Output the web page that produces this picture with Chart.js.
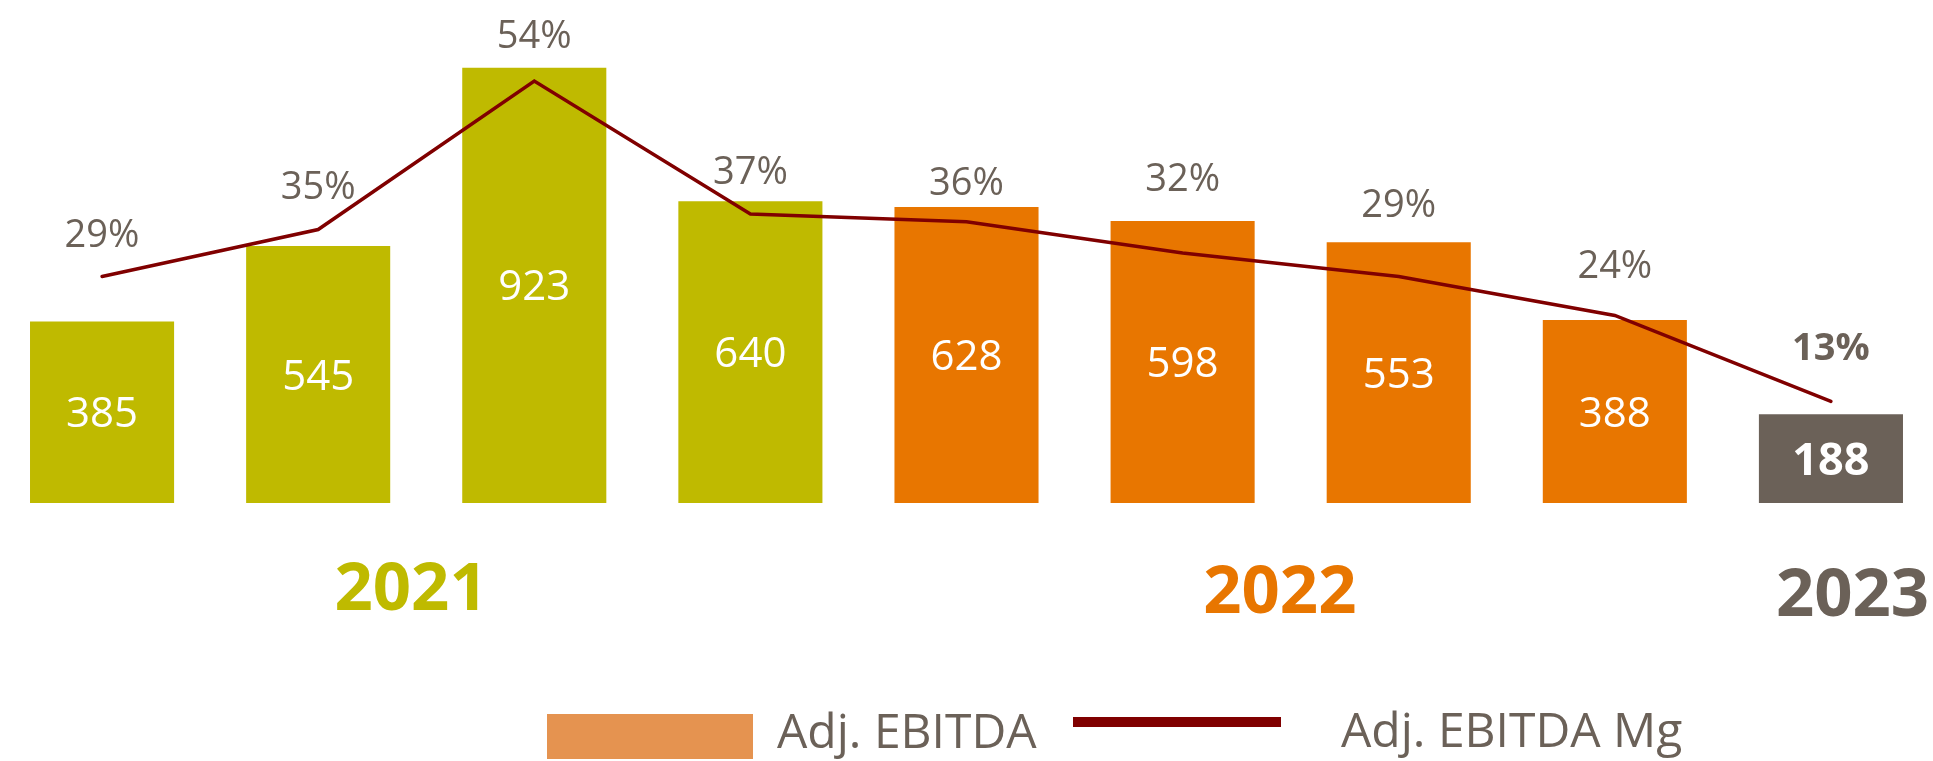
<!DOCTYPE html>
<html>
<head>
<meta charset="utf-8">
<script src="https://cdn.jsdelivr.net/npm/chart.js@4"></script>
<style>
  html, body { margin: 0; padding: 0; background: #fff; overflow: hidden; width: 1933px; height: 761px; }
  #wrap { position: absolute; left: -6px; top: 0; width: 1945px; height: 761px; }
</style>
</head>
<body>
<div id="wrap"><canvas id="chart" width="1945" height="761"></canvas></div>
<script>
// quarters 2021 Q1 .. 2023 Q1
const quarters  = ['Q1 2021','Q2 2021','Q3 2021','Q4 2021','Q1 2022','Q2 2022','Q3 2022','Q4 2022','Q1 2023'];
const ebitda    = [385, 545, 923, 640, 628, 598, 553, 388, 188];
const margin    = [29, 35, 54, 37, 36, 32, 29, 24, 13];
const barColors = ['#BFBA00','#BFBA00','#BFBA00','#BFBA00','#E87600','#E87600','#E87600','#E87600','#6B6158'];
const years      = ['2021', '2022', '2023'];
const yearColors = ['#BFBA00', '#E87600', '#6B6158'];
const seriesNames = ['Adj. EBITDA', 'Adj. EBITDA Mg'];

const GRAY = '#6B6158';
const FONT = '"Open Sans", "Noto Sans", sans-serif';

// numbers inside bars and percentages above the line
const valueLabels = {
  id: 'valueLabels',
  afterDatasetsDraw(chart, args, opts) {
    const ctx = chart.ctx;
    const last = ebitda.length - 1;
    ctx.save();
    ctx.textAlign = 'center';
    ctx.textBaseline = 'alphabetic';
    chart.getDatasetMeta(1).data.forEach((bar, i) => {
      const bold = i === last;
      ctx.font = (bold ? 'bold 45px ' : '42px ') + FONT;
      ctx.fillStyle = '#fff';
      ctx.fillText(String(ebitda[i]), bar.x, (bar.y + bar.base) / 2 + (bold ? 16 : 15));
    });
    chart.getDatasetMeta(0).data.forEach((pt, i) => {
      const bold = i === last;
      ctx.font = (bold ? 'bold ' : '') + '38px ' + FONT;
      ctx.fillStyle = GRAY;
      // labels were nudged by hand in the original, some sit above the bars
      ctx.fillText(margin[i] + '%', pt.x, pt.y - (bold ? 41 : 31) - opts.lift[i]);
    });
    ctx.restore();
  }
};

// year captions under the bar groups + legend row
const decorations = {
  id: 'decorations',
  afterDraw(chart, args, opts) {
    const ctx = chart.ctx;
    const x = chart.scales.x;
    ctx.save();
    ctx.textAlign = 'center';
    ctx.textBaseline = 'alphabetic';
    ctx.font = 'bold 67px ' + FONT;
    years.forEach((y, i) => {
      ctx.fillStyle = yearColors[i];
      ctx.fillText(y, x.getPixelForValue(opts.yearAt[i]), opts.yearBase[i]);
    });

    // legend
    const lg = opts.legend;
    ctx.fillStyle = '#E59350';
    ctx.fillRect(lg.boxX, lg.boxY, lg.boxW, lg.boxH);
    ctx.strokeStyle = '#800000';
    ctx.lineWidth = 10;
    ctx.beginPath();
    ctx.moveTo(lg.lineX, lg.lineY);
    ctx.lineTo(lg.lineX + lg.boxW + 2, lg.lineY);
    ctx.stroke();
    ctx.textAlign = 'left';
    ctx.font = '48px ' + FONT;
    ctx.fillStyle = GRAY;
    ctx.fillText(seriesNames[0], lg.text1X, lg.textBase);
    ctx.fillText(seriesNames[1], lg.text2X, lg.textBase - 1);
    ctx.restore();
  }
};

new Chart(document.getElementById('chart').getContext('2d'), {
  data: {
    labels: quarters,
    datasets: [
      { type: 'line', label: seriesNames[1], data: margin, yAxisID: 'y2',
        borderColor: '#800000', borderWidth: 3.5, pointRadius: 0, tension: 0,
        borderCapStyle: 'round', fill: false, order: 1 },
      { type: 'bar', label: seriesNames[0], data: ebitda, yAxisID: 'y',
        backgroundColor: barColors, borderWidth: 0,
        categoryPercentage: 0.6667, barPercentage: 1, order: 2 }
    ]
  },
  options: {
    responsive: false,
    animation: false,
    devicePixelRatio: 1,
    layout: { padding: { top: 10, bottom: 258, left: 0, right: 0 } },
    scales: {
      x:  { display: false, offset: true, grid: { display: false } },
      y:  { display: false, min: 0, max: 1045.6 },
      y2: { display: false, min: 0, max: 63.1, position: 'right' }
    },
    plugins: {
      legend: { display: false },
      tooltip: { enabled: false },
      valueLabels: { lift: [-2, 0, 2, -1, -4, 31, 28, 6, 0] },
      decorations: {
        yearAt: [1.43, 5.45, 8.10],
        yearBase: [610, 613, 616],
        legend: { boxX: 553, boxY: 714, boxW: 206, boxH: 45,
                  lineX: 1079, lineY: 722, text1X: 783, text2X: 1347, textBase: 748 }
      }
    }
  },
  plugins: [valueLabels, decorations]
});
</script>
</body>
</html>
